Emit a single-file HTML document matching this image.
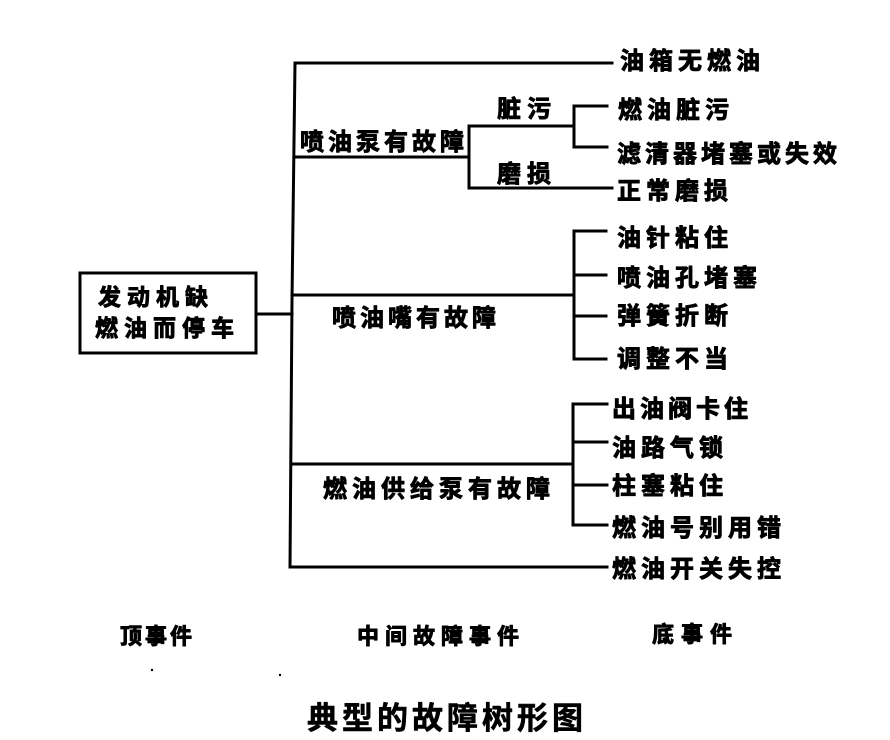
<!DOCTYPE html>
<html><head><meta charset="utf-8"><style>
html,body{margin:0;padding:0;background:#fff;}
svg{display:block;}
text{font-family:"Liberation Sans","Noto Sans CJK SC","WenQuanYi Zen Hei",sans-serif;font-weight:700;fill:#000;stroke:#000;stroke-width:0.9px;stroke-linejoin:round;}
</style></head><body>
<svg width="890" height="740" viewBox="0 0 890 740" xmlns="http://www.w3.org/2000/svg">
<g stroke="#000" stroke-width="3" fill="none" stroke-linecap="square">
  <path d="M295 63 L292 300 L290 567"/>
  <path d="M295 63 H612"/>
  <path d="M295 157 H469"/>
  <path d="M469 126 V188"/>
  <path d="M469 126 H574"/>
  <path d="M469 188 H612"/>
  <path d="M574 106 V147"/>
  <path d="M574 106 H607"/>
  <path d="M574 147 H607"/>
  <path d="M292 295 H574"/>
  <path d="M574 231 V359"/>
  <path d="M574 231 H606"/>
  <path d="M574 275 H606"/>
  <path d="M574 316 H606"/>
  <path d="M574 359 H606"/>
  <rect x="80" y="273" width="176" height="80"/>
  <path d="M256 314 H292"/>
  <path d="M291 464 H573"/>
  <path d="M573 404 V525"/>
  <path d="M573 404 H607"/>
  <path d="M573 442 H607"/>
  <path d="M573 485 H607"/>
  <path d="M573 525 H607"/>
  <path d="M290 567 H607"/>
</g>
<circle cx="152" cy="670" r="1.2" fill="#000"/>
<circle cx="280" cy="675" r="1.2" fill="#000"/>

<g font-size="23">
  <text x="98" y="305" letter-spacing="6">发动机缺</text>
  <text x="95" y="336" letter-spacing="6">燃油而停车</text>
</g>
<g font-size="24">
  <text x="300" y="150" letter-spacing="4">喷油泵有故障</text>
  <text x="332" y="326" letter-spacing="4">喷油嘴有故障</text>
  <text x="323" y="497" letter-spacing="5">燃油供给泵有故障</text>
  <text x="497" y="117" letter-spacing="6">脏污</text>
  <text x="497" y="182" letter-spacing="6">磨损</text>

  <text x="620" y="69" letter-spacing="5">油箱无燃油</text>
  <text x="618" y="118" letter-spacing="5">燃油脏污</text>
  <text x="617" y="162" letter-spacing="4">滤清器堵塞或失效</text>
  <text x="617" y="199" letter-spacing="5">正常磨损</text>
  <text x="617" y="246" letter-spacing="5">油针粘住</text>
  <text x="617" y="286" letter-spacing="5">喷油孔堵塞</text>
  <text x="617" y="324" letter-spacing="5">弹簧折断</text>
  <text x="617" y="367" letter-spacing="5">调整不当</text>
  <text x="612" y="417" letter-spacing="4">出油阀卡住</text>
  <text x="612" y="456" letter-spacing="5">油路气锁</text>
  <text x="612" y="494" letter-spacing="5">柱塞粘住</text>
  <text x="612" y="536" letter-spacing="5">燃油号别用错</text>
  <text x="612" y="577" letter-spacing="5">燃油开关失控</text>
</g>
<g font-size="22">
  <text x="120" y="644" letter-spacing="3">顶事件</text>
  <text x="357" y="644" letter-spacing="6">中间故障事件</text>
  <text x="652" y="642" letter-spacing="7">底事件</text>
</g>
<text x="307" y="729" font-size="31" letter-spacing="4" style="stroke-width:0.6px">典型的故障树形图</text>
</svg>
</body></html>
